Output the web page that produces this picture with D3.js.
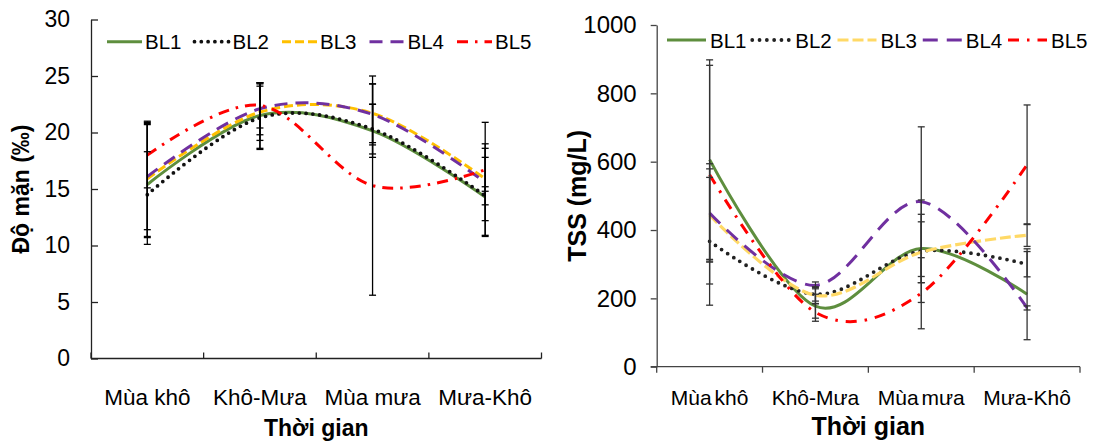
<!DOCTYPE html>
<html>
<head>
<meta charset="utf-8">
<script src="https://cdn.jsdelivr.net/npm/d3@7"></script>
<style>
  html, body { margin: 0; padding: 0; background: #fff; }
  svg { display: block; }
  text { font-family: "Liberation Sans", Arial, sans-serif; fill: #000; }
</style>
</head>
<body>
<svg id="chart" width="1093" height="441"></svg>
<script>
// ---------- DATA ----------
const categories = ["Mùa khô", "Khô-Mưa", "Mùa mưa", "Mưa-Khô"];
const seriesNames = ["BL1", "BL2", "BL3", "BL4", "BL5"];

// Độ mặn (‰) – means
const salBL1 = [15.4, 21.5, 20.15, 14.3];
const salBL2 = [14.5, 21.3, 20.3, 14.4];
const salBL3 = [15.9, 21.8, 21.7, 15.9];
const salBL4 = [16.1, 22.1, 21.6, 15.6];
const salBL5 = [18.0, 22.4, 15.3, 16.7];
// Độ mặn – error (±)
const salErrBL1 = [5.3, 2.9, 2.35, 3.5];
const salErrBL2 = [3.8, 2.8, 2.2, 0.8];
const salErrBL3 = [5.1, 2.5, 2.6, 5.0];
const salErrBL4 = [4.7, 2.3, 2.7, 3.4];
const salErrBL5 = [2.9, 2.0, 9.7, 1.9];

// TSS (mg/L) – means
const tssBL1 = [606, 177, 346, 212];
const tssBL2 = [367, 212, 338, 300];
const tssBL3 = [444, 209, 335, 385];
const tssBL4 = [450, 238, 483, 172];
const tssBL5 = [562, 159, 215, 591];
// TSS – error (±)
const tssErrBL1 = [292, 35, 100, 133];
const tssErrBL2 = [187, 20, 150, 37];
const tssErrBL3 = [135, 25, 89, 33];
const tssErrBL4 = [144, 10, 219, 6];
const tssErrBL5 = [320, 26, 104, 175];

const salTicks = [0, 5, 10, 15, 20, 25, 30];
const tssTicks = [0, 200, 400, 600, 800, 1000];

// ---------- STYLES ----------
const styleLeft = [
  { color: "#5E8E3E", width: 3,   dash: null,          cap: "butt" },
  { color: "#111111", width: 3.8, dash: "0 6.8",       cap: "round" },
  { color: "#FFC000", width: 3,   dash: "9 4",         cap: "butt" },
  { color: "#7030A0", width: 3,   dash: "13 8",        cap: "butt" },
  { color: "#FF0000", width: 3,   dash: "11 7 2.5 7",  cap: "butt" }
];
const styleRight = [
  { color: "#5E8E3E", width: 3,   dash: null,          cap: "butt" },
  { color: "#222222", width: 3.8, dash: "0 7.3",       cap: "round" },
  { color: "#FFD966", width: 3.2, dash: "11 4",        cap: "butt" },
  { color: "#7030A0", width: 3,   dash: "15 9",        cap: "butt" },
  { color: "#FF0000", width: 3,   dash: "11 8 2.5 8",  cap: "butt" }
];

const svg = d3.select("#chart");

function drawPanel(cfg) {
  const g = svg.append("g");
  const x = d3.scaleBand().domain(categories).range([cfg.x0, cfg.x1]).padding(0);
  const y = d3.scaleLinear().domain(cfg.domain).range([cfg.yBottom, cfg.yTop]);

  // y axis
  const yAxis = d3.axisLeft(y).tickValues(cfg.ticks).tickFormat(d3.format("d"))
    .tickSizeInner(cfg.yTickInside ? -7 : 6).tickSizeOuter(0)
    .tickPadding(cfg.yTickPad);
  const ya = g.append("g").attr("transform", `translate(${cfg.x0},0)`).call(yAxis);
  ya.select(".domain").attr("stroke", cfg.axisColor).attr("stroke-width", 1.3);
  ya.selectAll(".tick line").attr("stroke", cfg.axisColor).attr("stroke-width", 1.3);
  ya.selectAll(".tick text").attr("font-size", cfg.yTickFont)
    .attr("font-family", "Liberation Sans, Arial, sans-serif").attr("fill", "#000");

  // x axis line
  g.append("line")
    .attr("x1", cfg.yTickInside ? cfg.x0 : cfg.x0 - 6).attr("x2", cfg.x1)
    .attr("y1", cfg.yBottom).attr("y2", cfg.yBottom)
    .attr("stroke", cfg.axisColor).attr("stroke-width", 1.3);
  // x boundary ticks
  const bounds = categories.map(c => x(c)).concat([x(categories[categories.length - 1]) + x.bandwidth()]);
  g.selectAll(".xb").data(bounds).join("line")
    .attr("x1", d => d).attr("x2", d => d)
    .attr("y1", cfg.yBottom)
    .attr("y2", cfg.yTickInside ? cfg.yBottom - 6 : cfg.yBottom + 6)
    .attr("stroke", cfg.axisColor).attr("stroke-width", 1.3);
  // x labels
  g.selectAll(".xl").data(categories).join("text")
    .attr("x", d => x(d) + x.bandwidth() / 2)
    .attr("y", cfg.xLabelY)
    .attr("text-anchor", "middle")
    .attr("font-size", cfg.xLabelFont)
    .attr("word-spacing", cfg.xWordSpacing || 0)
    .text(d => d);

  // titles
  g.append("text")
    .attr("x", (cfg.x0 + cfg.x1) / 2).attr("y", cfg.xTitleY)
    .attr("text-anchor", "middle").attr("font-weight", "bold")
    .attr("font-size", cfg.xTitleFont).text("Thời gian");
  g.append("text")
    .attr("transform", `translate(${cfg.yTitleX},${(cfg.yTop + cfg.yBottom) / 2}) rotate(-90)`)
    .attr("text-anchor", "middle").attr("font-weight", "bold")
    .attr("font-size", cfg.yTitleFont).text(cfg.yTitle);

  const cx = c => x(c) + x.bandwidth() / 2;
  const line = d3.line().x(d => cx(d.cat)).y(d => y(d.v)).curve(d3.curveCardinal.tension(0));

  // series lines
  cfg.series.forEach((s, i) => {
    const st = cfg.styles[i];
    const pts = categories.map((c, k) => ({ cat: c, v: s[k] }));
    g.append("path").datum(pts)
      .attr("d", line).attr("fill", "none")
      .attr("stroke", st.color).attr("stroke-width", st.width)
      .attr("stroke-dasharray", st.dash).attr("stroke-linecap", st.cap);
  });

  // error bars
  const capW = 3.5;
  cfg.series.forEach((s, i) => {
    const e = cfg.errors[i];
    categories.forEach((c, k) => {
      const xc = cx(c), hi = y(s[k] + e[k]), lo = y(s[k] - e[k]);
      g.append("line").attr("x1", xc).attr("x2", xc).attr("y1", hi).attr("y2", lo)
        .attr("stroke", cfg.errColor).attr("stroke-width", 1.3);
      [hi, lo].forEach(yy => g.append("line")
        .attr("x1", xc - capW).attr("x2", xc + capW).attr("y1", yy).attr("y2", yy)
        .attr("stroke", cfg.errColor).attr("stroke-width", 1.3));
    });
  });

  // legend
  seriesNames.forEach((n, i) => {
    const st = cfg.styles[i];
    const lx = cfg.legX + i * cfg.legStep;
    g.append("line").attr("x1", lx).attr("x2", lx + cfg.legLine)
      .attr("y1", cfg.legY).attr("y2", cfg.legY)
      .attr("stroke", st.color).attr("stroke-width", st.width)
      .attr("stroke-dasharray", st.dash).attr("stroke-linecap", st.cap);
    g.append("text").attr("x", lx + cfg.legText).attr("y", cfg.legY + 7.5)
      .attr("font-size", cfg.legFont).text(n);
  });
}

drawPanel({
  x0: 91, x1: 541.5, yTop: 19.5, yBottom: 358.5, domain: [0, 30], ticks: salTicks,
  yTickInside: true, yTickPad: 21, yTickFont: 23, axisColor: "#222",
  xLabelY: 405, xLabelFont: 22.5, xTitleY: 436, xTitleFont: 23,
  yTitleX: 28.5, yTitleFont: 23, yTitle: "Độ mặn (‰)",
  series: [salBL1, salBL2, salBL3, salBL4, salBL5],
  errors: [salErrBL1, salErrBL2, salErrBL3, salErrBL4, salErrBL5],
  styles: styleLeft, errColor: "#000",
  legX: 107, legStep: 87.5, legLine: 35, legText: 38, legY: 41.7, legFont: 20.5
});

drawPanel({
  x0: 656.7, x1: 1080, yTop: 25, yBottom: 366.7, domain: [0, 1000], ticks: tssTicks,
  yTickInside: false, yTickPad: 14, yTickFont: 24, axisColor: "#444",
  xLabelY: 405, xLabelFont: 21, xWordSpacing: -3, xTitleY: 435, xTitleFont: 25,
  yTitleX: 586, yTitleFont: 25, yTitle: "TSS (mg/L)",
  series: [tssBL1, tssBL2, tssBL3, tssBL4, tssBL5],
  errors: [tssErrBL1, tssErrBL2, tssErrBL3, tssErrBL4, tssErrBL5],
  styles: styleRight, errColor: "#333",
  legX: 667, legStep: 85.25, legLine: 39, legText: 43, legY: 40, legFont: 20.5
});
</script>
</body>
</html>
